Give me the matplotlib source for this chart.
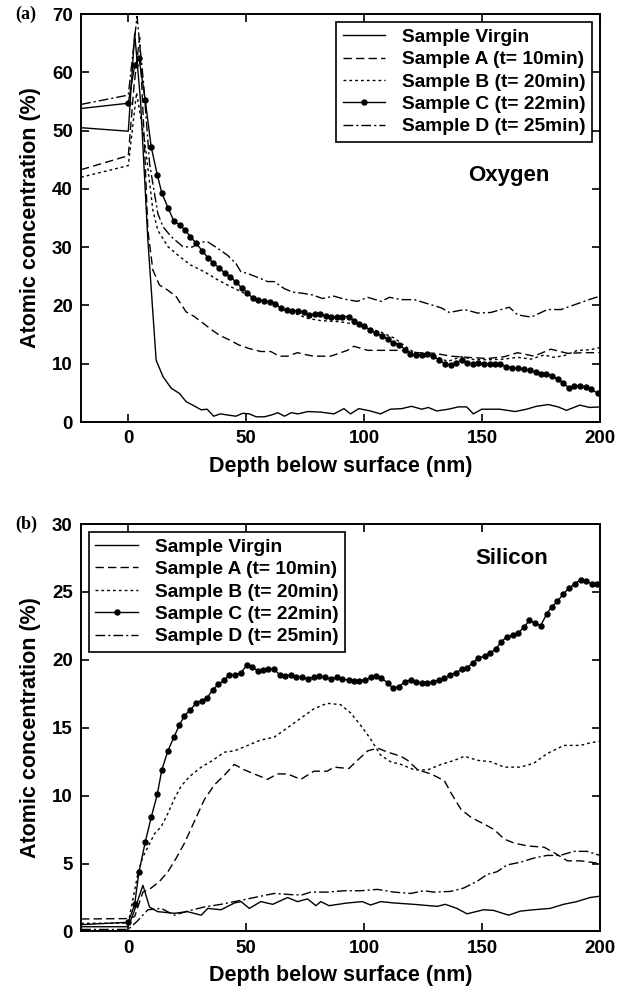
import matplotlib
matplotlib.use("Agg")
import matplotlib.pyplot as plt

plt.rcParams['font.family'] = ['Liberation Sans', 'DejaVu Sans']
plt.rcParams['font.weight'] = 'bold'

labels = ['Sample Virgin', 'Sample A (t= 10min)', 'Sample B (t= 20min)',
          'Sample C (t= 22min)', 'Sample D (t= 25min)']

# ---- oxygen profiles (depth in nm, concentration in %)
o_virgin_x = [-20, 0, 2.7, 5.2, 8.3, 11.8, 14.7, 18.2, 21.7, 24.5, 27.3, 30.9, 33.4, 36.2, 39, 42.2,
              45.6, 48.5, 51.3, 54.2, 57.7, 60.6, 63.4, 66.2, 69.1, 71.9, 76.1, 81.6, 87.2, 91.4,
              94.2, 97.7, 102.6, 106.9, 111.1, 115.9, 120.1, 124.4, 127.2, 130.7, 135.7, 139.9,
              143.4, 146.3, 149.8, 157.5, 163.9, 168.8, 173, 178, 182.2, 185.7, 191.4, 195.6, 200]
o_virgin_y = [50.5, 49.9, 66.7, 55, 31.2, 10.6, 7.8, 5.8, 4.9, 3.5, 2.9, 2.1, 2.2, 1.0, 1.4, 1.2,
              1.0, 1.5, 1.4, 0.9, 0.9, 1.2, 1.6, 1.0, 1.6, 1.4, 1.8, 1.7, 1.4, 2.3,
              1.4, 2.3, 1.9, 1.4, 2.2, 2.3, 2.7, 2.2, 2.5, 1.9, 2.2, 2.6,
              2.6, 1.4, 2.2, 2.2, 1.8, 2.2, 2.7, 3.0, 2.6, 2.0, 2.9, 2.5, 2.6]

o_a_x = [-20, 0, 2.5, 4.8, 6.8, 8.3, 10.4, 13.2, 16.8, 20.3, 24.5, 28, 31.6, 35.1, 38.6, 42.8, 47,
         51.3, 56.2, 60.4, 64, 67.5, 71.7, 75.9, 78.7, 85.8, 92.9, 95.6, 101.5, 108.6, 115.6,
         122.7, 129.7, 136.8, 143.8, 152.3, 159.3, 165, 172, 179.1, 186.1, 193.2, 200]
o_a_y = [43.3, 45.7, 58, 66, 48, 32.9, 26.1, 23.5, 22.6, 21.5, 18.9, 18.1, 17.0, 15.9, 14.9, 14.1, 13.2,
         12.6, 12.1, 12.1, 11.3, 11.3, 11.9, 11.5, 11.3, 11.3, 12.3, 13.0, 12.3, 12.3, 12.3,
         11.9, 11.8, 11.3, 11.1, 10.9, 11.2, 11.9, 11.3, 12.5, 11.8, 11.9, 11.9]

o_b_x = [-20, 0, 3.5, 7, 10.4, 12.5, 16.8, 21.7, 26.6, 32.2, 37.9, 43.5, 49.2, 56.2, 63.2, 70.3,
         75.9, 81.6, 90, 95.6, 101.5, 107.2, 112.8, 117, 121.3, 126.9, 131.2, 135.4, 141.1,
         146.7, 153.7, 159.3, 165, 170.7, 176.3, 180.5, 184.8, 190.4, 196, 200]
o_b_y = [42.0, 44.0, 56.5, 48, 36.4, 32.9, 30.1, 28.4, 26.9, 25.8, 24.4, 23.2, 22.1, 20.9, 19.8, 18.7,
         17.8, 17.4, 17.2, 16.8, 16.2, 15.4, 14.4, 13.1, 11.9, 11.6, 11.1, 10.4, 11.2,
         10.7, 10.7, 10.8, 11.1, 10.8, 11.5, 11.1, 11.4, 12.3, 12.4, 12.8]

o_c_x = [-20, 0, 2.7, 4.5, 7.2, 9.7, 12.3, 14.2, 16.8, 19.3, 21.8, 24, 26.3, 28.7, 31.3, 33.7, 36.1,
         38.6, 41, 43.3, 45.7, 48.1, 50.4, 52.7, 55.1, 57.6, 59.9, 62.2, 64.7, 67.1, 69.6, 72,
         74.4, 76.6, 79, 81.3, 83.7, 86.1, 88.3, 90.7, 93.5, 95.6, 97.7, 100.1, 102.6, 105.1,
         107.5, 109.9, 112.4, 114.8, 117.4, 119.5, 122, 124.4, 126.8, 129.3, 131.9, 134.3,
         136.7, 138.9, 141.3, 143.4, 146, 148.4, 150.9, 153.3, 155.4, 157.5, 160.3, 162.7,
         165.2, 167.6, 170.2, 172.7, 175.1, 177.2, 179.8, 182.2, 184.3, 186.7, 189, 191.4,
         193.9, 196.3, 199.1]
o_c_y = [53.8, 54.7, 61.2, 62.5, 55.2, 47.2, 42.4, 39.3, 36.8, 34.5, 33.8, 33.0, 31.8, 30.7, 29.4, 28.2, 27.3,
         26.4, 25.5, 24.9, 24.0, 23.0, 22.2, 21.3, 21.0, 20.8, 20.6, 20.2, 19.6, 19.2, 19.1, 19.1,
         18.8, 18.4, 18.5, 18.6, 18.2, 18.0, 18.0, 18.1, 18.1, 17.4, 16.8, 16.4, 15.8, 15.2,
         14.8, 14.2, 13.6, 13.3, 12.4, 11.7, 11.5, 11.5, 11.7, 11.3, 10.6, 10.0,
         9.8, 10.2, 10.6, 10.2, 10.0, 10.2, 10.0, 10.0, 10.0, 10.0, 9.5, 9.3,
         9.2, 9.1, 8.9, 8.6, 8.3, 8.3, 7.9, 7.3, 6.7, 5.9, 6.2, 6.2,
         6.0, 5.6, 4.9]

o_d_x = [-20, 0, 3.7, 6.5, 9, 11.1, 12.5, 14.7, 18.2, 23.1, 27, 30.9, 33.7, 37.9, 42.1, 45.6, 47.7,
         50.5, 56.2, 59, 61.9, 66.1, 69.6, 73.8, 78.1, 82.3, 87.2, 91.4, 97.1, 101.5, 107.2,
         110.7, 115.6, 121.3, 126.9, 132.6, 136.1, 142.5, 148.1, 153.7, 158, 161.5, 165, 170.7,
         177.7, 183.4, 190.4, 196, 200]
o_d_y = [54.5, 56.1, 69.6, 58, 44.4, 39.2, 35.8, 33.5, 31.8, 30.1, 30.0, 30.9, 30.9, 29.8, 28.6, 27.2, 25.8,
         25.5, 24.6, 24.1, 24.1, 22.9, 22.3, 22.1, 21.8, 21.2, 21.6, 21.1, 20.7, 21.4, 20.7,
         21.4, 21.0, 21.0, 20.3, 19.6, 18.8, 19.3, 18.7, 18.8, 19.3, 19.7, 18.4, 18.0,
         19.3, 19.3, 20.3, 21.1, 21.6]

# ---- silicon profiles
s_virgin_x = [-20, 0, 2.5, 6.2, 9, 12.5, 19.5, 25.1, 30.9, 33.7, 39.3, 45, 47.8, 51.3, 56.2, 61.2,
              67.5, 71.7, 76, 79.5, 81.6, 85.1, 92.9, 99.2, 102.7, 107, 112.6, 121, 130.9, 134.4,
              139.3, 143.6, 150.6, 154.9, 161.2, 166.2, 171.8, 178.8, 184.5, 190.1, 195.7, 200]
s_virgin_y = [0.35, 0.35, 1.5, 3.4, 1.8, 1.46, 1.34, 1.46, 1.2, 1.7, 1.6, 2.1, 2.2, 1.7, 2.2, 2.0,
              2.5, 2.2, 2.4, 1.9, 2.2, 1.9, 2.1, 2.2, 1.95, 2.2, 2.1, 2.0, 1.85, 2.0,
              1.7, 1.3, 1.6, 1.55, 1.2, 1.5, 1.6, 1.7, 2.0, 2.2, 2.5, 2.6]

s_a_x = [-20, 0, 2.7, 6.2, 9.7, 13.3, 16.8, 20.3, 23.8, 28, 32.2, 36.5, 40.7, 44.9, 49.2, 54.8, 59,
         63.2, 67.5, 73.1, 78.7, 84.3, 87.2, 93.5, 97.1, 101.5, 105.7, 110, 115.6, 118.4, 122.7,
         128.3, 134, 136.8, 141, 145.3, 150.9, 155.1, 159.4, 163.7, 169.3, 176.3, 180.5, 186.2,
         191.8, 196, 200]
s_a_y = [0.92, 0.95, 1.1, 2.9, 3.2, 3.7, 4.4, 5.4, 6.5, 8.1, 9.7, 10.8, 11.5, 12.3, 11.9, 11.5, 11.2,
         11.6, 11.6, 11.2, 11.8, 11.8, 12.1, 12.0, 12.6, 13.3, 13.5, 13.2, 12.9, 12.6, 11.9,
         11.6, 11.1, 10.2, 9.0, 8.4, 7.9, 7.5, 6.8, 6.5, 6.3, 6.2, 5.8, 5.2,
         5.2, 5.1, 5.0]

s_b_x = [-20, 0, 4.1, 6.2, 8.3, 11.1, 13.9, 16.8, 19.6, 22.4, 25.9, 30.9, 35.8, 40.7, 45, 50.6,
         56.2, 61.8, 67.5, 73.1, 78.7, 84.3, 90, 94.2, 98.4, 102.6, 106.9, 111.1, 115.6, 121.3,
         126.9, 132.6, 138.2, 142.5, 148.1, 153.7, 159.3, 166.3, 172, 177.6, 184.6, 191.7, 196, 200]
s_b_y = [0.6, 0.62, 4.3, 5.5, 6.2, 7.2, 7.7, 8.7, 9.8, 10.7, 11.4, 12.1, 12.6, 13.2, 13.3, 13.7,
         14.1, 14.3, 15.0, 15.7, 16.4, 16.8, 16.7, 16.1, 15.2, 14.2, 13.0, 12.5, 12.3, 11.9,
         11.9, 12.3, 12.6, 12.9, 12.6, 12.5, 12.1, 12.1, 12.4, 13.1, 13.7, 13.7, 13.9, 14.0]

s_c_x = [-20, 0, 2.7, 4.5, 7.2, 9.7, 12.3, 14.2, 16.8, 19.3, 21.7, 23.8, 26.2, 28.7, 31.1, 33.4,
         35.8, 38.2, 40.7, 42.8, 45.3, 47.8, 50.2, 52.5, 54.8, 57.3, 59.4, 61.8, 64.2, 66.5,
         68.9, 71.3, 73.8, 76.2, 78.6, 81, 83.5, 86.1, 88.3, 90.7, 93.5, 95.6, 98, 100.5,
         102.9, 105.1, 107.3, 110, 112.2, 114.6, 117.4, 119.8, 122, 124.4, 126.8, 129.3,
         131.9, 133.9, 136.4, 139, 141.4, 143.5, 146, 148.4, 151, 153.4, 155.8, 158, 160.4,
         163, 165.4, 167.7, 170, 172.4, 174.8, 177.4, 179.5, 181.9, 184.4, 186.9, 189.3,
         191.7, 194, 196.4, 198.8]
s_c_y = [0.5, 0.68, 2.0, 4.36, 6.6, 8.4, 10.1, 11.9, 13.3, 14.3, 15.2, 15.9, 16.3, 16.8, 17.0, 17.2,
         17.8, 18.2, 18.5, 18.9, 18.9, 19.06, 19.6, 19.5, 19.2, 19.25, 19.3, 19.3, 18.9, 18.8,
         18.9, 18.75, 18.7, 18.6, 18.7, 18.8, 18.7, 18.6, 18.7, 18.6, 18.5, 18.45, 18.47, 18.52,
         18.72, 18.81, 18.64, 18.32, 17.9, 18.03, 18.4, 18.52, 18.4, 18.28, 18.28, 18.4,
         18.52, 18.64, 18.89, 19.06, 19.31, 19.38, 19.8, 20.1, 20.3, 20.5, 20.8, 21.3, 21.7,
         21.8, 22.0, 22.4, 22.9, 22.7, 22.5, 23.4, 23.9, 24.3, 24.85, 25.3, 25.6,
         25.9, 25.8, 25.6, 25.6]

s_d_x = [-20, 0, 4, 8.3, 14, 19.5, 25.1, 32.1, 39.3, 45, 50.6, 56.2, 61.8, 70.3, 73.8, 77.3, 84.4,
         91.5, 98.5, 105.6, 112.6, 119.7, 125.3, 129.6, 136.6, 142.2, 147.9, 152.1, 156.3,
         160.6, 166.2, 171.8, 177.5, 183.1, 188.8, 194.4, 200]
s_d_y = [0.15, 0.15, 0.8, 1.6, 1.7, 1.2, 1.5, 1.8, 2.0, 2.2, 2.4, 2.6, 2.8, 2.7, 2.7, 2.9, 2.9,
         3.0, 3.0, 3.1, 2.9, 2.8, 3.0, 2.9, 2.95, 3.2, 3.7, 4.2, 4.4,
         4.9, 5.1, 5.4, 5.6, 5.6, 5.9, 5.9, 5.6]

# line styles: virgin, A, B, C, D
styles = [dict(ls='-'),
          dict(ls=(0, (6, 3))),
          dict(ls=(0, (2, 2.2))),
          dict(ls='-', marker='o', ms=3.6, markevery=slice(1, None)),
          dict(ls=(0, (7, 2.2, 1.5, 2.2)))]


def draw_panel(ax, series, ylim, yticks, name, name_xy, legend_loc):
    for (x, y), lab, st in zip(series, labels, styles):
        ax.plot(x, y, color='black', lw=1.0, label=lab, **st)
    ax.set_xlim(-20, 200)
    ax.set_ylim(*ylim)
    ax.set_xticks([0, 50, 100, 150, 200])
    ax.set_yticks(yticks)
    ax.tick_params(direction='in', top=True, right=True, length=6, width=1.2,
                   labelsize=13.5, pad=6)
    for s in ax.spines.values():
        s.set_linewidth(1.4)
    ax.set_xlabel('Depth below surface (nm)', fontsize=15.5, fontweight='bold', labelpad=6)
    ax.set_ylabel('Atomic concentration (%)', fontsize=15.5, fontweight='bold', labelpad=8)
    ax.text(name_xy[0], name_xy[1], name, transform=ax.transAxes, fontsize=16,
            fontweight='bold', ha='center', va='center')
    leg = ax.legend(loc=legend_loc, fontsize=13.8, frameon=True, fancybox=False,
                    edgecolor='black', framealpha=1, handlelength=2.2,
                    handletextpad=0.9, labelspacing=0.26, borderaxespad=0.4,
                    borderpad=0.35)
    leg.get_frame().set_linewidth(1.2)


fig = plt.figure(figsize=(6.24, 9.90), dpi=100)
ax1 = fig.add_axes([0.130, 0.5737, 0.8317, 0.4121])
ax2 = fig.add_axes([0.130, 0.0591, 0.8317, 0.4116])

draw_panel(ax1,
           [(o_virgin_x, o_virgin_y), (o_a_x, o_a_y), (o_b_x, o_b_y), (o_c_x, o_c_y), (o_d_x, o_d_y)],
           (0, 70), range(0, 71, 10), 'Oxygen', (0.825, 0.605), 'upper right')
draw_panel(ax2,
           [(s_virgin_x, s_virgin_y), (s_a_x, s_a_y), (s_b_x, s_b_y), (s_c_x, s_c_y), (s_d_x, s_d_y)],
           (0, 30), range(0, 31, 5), 'Silicon', (0.83, 0.915), 'upper left')

fig.text(0.042, 0.986, '(a)', family='Liberation Serif', fontsize=13, fontweight='bold',
         ha='center', va='center')
fig.text(0.042, 0.470, '(b)', family='Liberation Serif', fontsize=13, fontweight='bold',
         ha='center', va='center')

fig.savefig('out.png', dpi=100)
